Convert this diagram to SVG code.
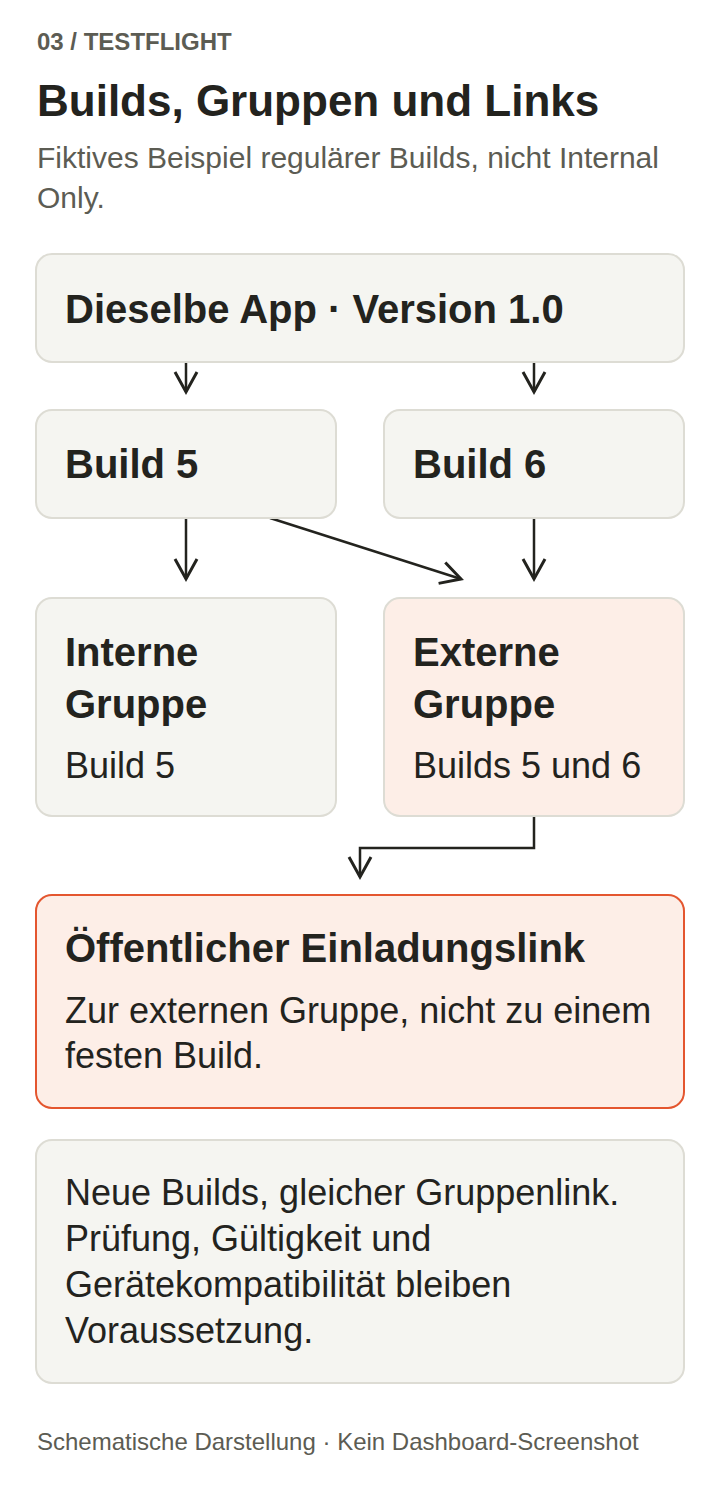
<svg xmlns="http://www.w3.org/2000/svg" width="720" height="1486" viewBox="0 0 720 1486">
<style>
text{font-family:"Liberation Sans",Arial,Helvetica,sans-serif;fill:#23231e}
.kick{font-size:24px;font-weight:700;fill:#5c5c53}
.h1{font-size:44px;font-weight:700}
.sub{font-size:30px;fill:#5c5c53}
.bt{font-size:40px;font-weight:700}
.bd{font-size:36px}
.foot{font-size:24px;fill:#5c5c53}
.node{fill:#f5f5f1;stroke:#dddcd4;stroke-width:2}
.hot{fill:#fdeee7;stroke:#dddcd4;stroke-width:2}
.key{fill:#fdeee7;stroke:#e4562f;stroke-width:2}
.edge{fill:none;stroke:#23231e;stroke-width:2.5;marker-end:url(#arr)}
</style>
<defs>
<marker id="arr" markerUnits="userSpaceOnUse" markerWidth="40" markerHeight="40" viewBox="-30 -20 40 40" refX="0" refY="0" orient="auto" overflow="visible">
<path d="M-20,-11 L0,0 L-20,11" fill="none" stroke="#23231e" stroke-width="3" stroke-linejoin="miter"/>
</marker>
</defs>
<rect width="720" height="1486" fill="#ffffff"/>
<text class="kick" x="37" y="50">03 / TESTFLIGHT</text>
<text class="h1" x="37" y="116">Builds, Gruppen und Links</text>
<text class="sub" x="37" y="168">Fiktives Beispiel regulärer Builds, nicht Internal</text>
<text class="sub" x="37" y="208">Only.</text>
<g id="connectors">
<path class="edge" d="M186,362 V392"/>
<path class="edge" d="M534,362 V392"/>
<path class="edge" d="M186,518 V579"/>
<path class="edge" d="M270,518 L461,579"/>
<path class="edge" d="M534,518 V579"/>
<path class="edge" d="M534,816 V848 H360 V877"/>
</g>
<g id="app">
<rect class="node" x="36" y="254" width="648" height="108" rx="16"/>
<text class="bt" x="65" y="323">Dieselbe App · Version 1.0</text>
</g>
<g id="build5">
<rect class="node" x="36" y="410" width="300" height="108" rx="16"/>
<text class="bt" x="65" y="478">Build 5</text>
</g>
<g id="build6">
<rect class="node" x="384" y="410" width="300" height="108" rx="16"/>
<text class="bt" x="413" y="478">Build 6</text>
</g>
<g id="intern">
<rect class="node" x="36" y="598" width="300" height="218" rx="16"/>
<text class="bt" x="65" y="666">Interne</text>
<text class="bt" x="65" y="718">Gruppe</text>
<text class="bd" x="65" y="778">Build 5</text>
</g>
<g id="extern">
<rect class="hot" x="384" y="598" width="300" height="218" rx="16"/>
<text class="bt" x="413" y="666">Externe</text>
<text class="bt" x="413" y="718">Gruppe</text>
<text class="bd" x="413" y="778">Builds 5 und 6</text>
</g>
<g id="link">
<rect class="key" x="36" y="895" width="648" height="213" rx="16"/>
<text class="bt" x="65" y="962">Öffentlicher Einladungslink</text>
<text class="bd" x="65" y="1023">Zur externen Gruppe, nicht zu einem</text>
<text class="bd" x="65" y="1068">festen Build.</text>
</g>
<g id="note">
<rect class="node" x="36" y="1140" width="648" height="243" rx="16"/>
<text class="bd" x="65" y="1205">Neue Builds, gleicher Gruppenlink.</text>
<text class="bd" x="65" y="1251">Prüfung, Gültigkeit und</text>
<text class="bd" x="65" y="1297">Gerätekompatibilität bleiben</text>
<text class="bd" x="65" y="1343">Voraussetzung.</text>
</g>
<text class="foot" x="37" y="1450">Schematische Darstellung · Kein Dashboard-Screenshot</text>
</svg>
